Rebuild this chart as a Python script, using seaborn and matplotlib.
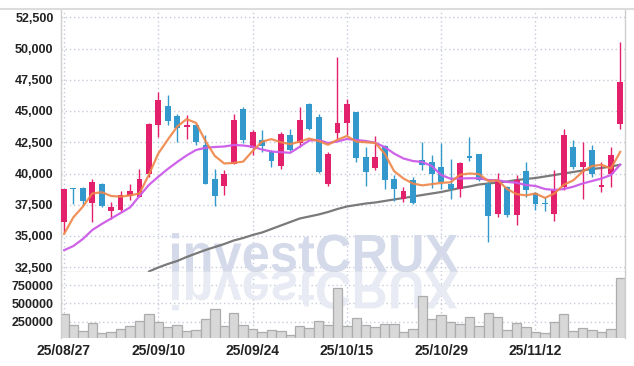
import numpy as np
import pandas as pd
import matplotlib
matplotlib.use("Agg")
import matplotlib.pyplot as plt
import seaborn as sns
from matplotlib.textpath import TextPath
from matplotlib.patches import PathPatch
from matplotlib.font_manager import FontProperties, fontManager
from matplotlib.transforms import Affine2D
from matplotlib.lines import Line2D

# ---------------- data ----------------
dates = ["2025-08-27", "2025-08-28", "2025-08-29", "2025-09-01", "2025-09-02",
         "2025-09-03", "2025-09-04", "2025-09-05", "2025-09-08", "2025-09-09",
         "2025-09-10", "2025-09-11", "2025-09-12", "2025-09-15", "2025-09-16",
         "2025-09-17", "2025-09-18", "2025-09-19", "2025-09-22", "2025-09-23",
         "2025-09-24", "2025-09-25", "2025-09-26", "2025-09-29", "2025-09-30",
         "2025-10-01", "2025-10-02", "2025-10-10", "2025-10-13", "2025-10-14",
         "2025-10-15", "2025-10-16", "2025-10-17", "2025-10-20", "2025-10-21",
         "2025-10-22", "2025-10-23", "2025-10-24", "2025-10-27", "2025-10-28",
         "2025-10-29", "2025-10-30", "2025-10-31", "2025-11-03", "2025-11-04",
         "2025-11-05", "2025-11-06", "2025-11-07", "2025-11-10", "2025-11-11",
         "2025-11-12", "2025-11-13", "2025-11-14", "2025-11-17", "2025-11-18",
         "2025-11-19", "2025-11-20", "2025-11-21", "2025-11-24", "2025-11-25"]

opens = [36100, 38800, 38850, 37650, 39200, 37000, 37100, 38200, 38150, 39950,
         43900, 45400, 44600, 43750, 43900, 42300, 39600, 39000, 40800, 45150,
         42000, 42700, 41750, 40600, 43100, 42400, 45550, 44550, 39150, 43250,
         44050, 44900, 41300, 40450, 42200, 39550, 37950, 39500, 41100, 40950,
         40550, 39150, 38800, 41400, 41550, 39150, 36800, 38900, 36700, 40200,
         38450, 37650, 36800, 38900, 42150, 40500, 41900, 38900, 39950, 43950]
highs = [38800, 38850, 38900, 39550, 39250, 37700, 38600, 39150, 40400, 44050,
         46550, 46250, 44800, 44700, 43950, 43100, 40350, 40300, 44750, 45300,
         43500, 43450, 41900, 43350, 43550, 45350, 45650, 44750, 41750, 49300,
         45950, 44950, 42100, 43000, 42250, 39850, 38950, 39700, 42550, 41500,
         42450, 41150, 40900, 42900, 41600, 39300, 40050, 39000, 39900, 40900,
         38500, 38100, 40250, 43550, 42650, 42550, 42300, 40950, 42100, 50550]
lows = [35350, 37550, 37480, 36150, 37350, 36350, 36900, 37900, 38100, 39750,
        42950, 43900, 42500, 42750, 42280, 39150, 37400, 38250, 40750, 42450,
        41500, 41750, 40500, 40350, 41800, 42150, 43450, 40050, 39000, 42700,
        43100, 40950, 39000, 40300, 38750, 37800, 37700, 37600, 40300, 38850,
        38750, 38000, 38150, 41000, 39400, 34550, 36550, 36500, 35900, 38150,
        37100, 37000, 36200, 38700, 40400, 38000, 39700, 38500, 38900, 43550]
closes = [38800, 38750, 37800, 39300, 37400, 37300, 38300, 38600, 39600, 43950,
          45900, 44200, 43650, 43900, 42550, 39200, 38200, 40000, 44300, 42700,
          43350, 42200, 41000, 43150, 41900, 44300, 43550, 40150, 41550, 44050,
          45550, 41200, 40150, 41300, 39500, 38750, 38600, 37650, 40700, 39950,
          39300, 38750, 40850, 41250, 39500, 36600, 39500, 36700, 39500, 38700,
          37550, 37550, 38650, 43100, 40500, 40900, 39950, 39100, 41500, 47350]
volumes = [355000, 205000, 127000, 228000, 100000, 114000, 150000, 191000, 260000, 355000,
           246000, 173000, 205000, 123000, 137000, 282000, 419000, 191000, 364000, 205000,
           146000, 105000, 137000, 123000, 64000, 191000, 164000, 260000, 205000, 706000,
           191000, 296000, 205000, 173000, 219000, 219000, 109000, 146000, 601000, 282000,
           342000, 246000, 219000, 319000, 187000, 364000, 310000, 132000, 228000, 173000,
           109000, 91000, 241000, 351000, 123000, 159000, 132000, 109000, 146000, 843000]
ma5 = [35150, 36500, 37350, 38400, 38500, 38200, 38150, 38250, 38400, 39900,
       41600, 42700, 43750, 44350, 44050, 42600, 41400, 40800, 40850, 40950,
       41800, 42550, 42750, 42500, 42350, 42550, 42800, 42600, 42300, 42700,
       43000, 42550, 42500, 42450, 41600, 40200, 39600, 39200, 39050, 39150,
       39250, 39300, 39900, 40000, 39950, 39400, 39450, 38750, 38350, 38250,
       38400, 38050, 38400, 39100, 39450, 40150, 40600, 40700, 40400, 41750]
ma20 = [33860, 34200, 34760, 35480, 35960, 36400, 36840, 37280, 38200, 39080,
        39740, 40360, 40920, 41440, 41880, 42060, 42120, 42160, 42280, 42240,
        42140, 41920, 41760, 41700, 41660, 42140, 42640, 42680, 42440, 42560,
        42760, 42680, 42600, 42460, 42120, 41600, 41200, 41000, 40920, 40600,
        39880, 39580, 39600, 39620, 39620, 39480, 39460, 39320, 39260, 39080,
        39000, 38760, 38680, 38760, 38940, 39200, 39400, 39600, 39880, 40720]
ma60 = [np.nan] * 9 + [
        32160, 32480, 32760, 33000, 33320, 33600, 33880, 34120, 34360, 34640,
        34840, 35080, 35280, 35560, 35840, 36120, 36400, 36560, 36720, 36920,
        37160, 37360, 37480, 37600, 37680, 37800, 37920, 38040, 38160, 38280,
        38400, 38520, 38680, 38840, 38960, 39120, 39200, 39280, 39360, 39480,
        39560, 39640, 39760, 39880, 40000, 40120, 40240, 40360, 40440, 40560,
        40700]
price_ticks = [32500, 35000, 37500, 40000, 42500, 45000, 47500, 50000, 52500]
volume_ticks = [250000, 500000, 750000]
label_step = 10
watermark = "investCRUX"

# ---------------- style ----------------
UP = "#e3206b"
DOWN = "#3399cc"
GRID = "#c6cadb"
SPINE = "#cfcfcf"
TXT = "#222222"

sns.set_style("white")
names = {f.name for f in fontManager.ttflist}
narrow = "Liberation Sans Narrow" in names
tick_family = ["Liberation Sans Narrow", "Liberation Sans", "DejaVu Sans"] if narrow else ["Liberation Sans", "DejaVu Sans"]
plt.rcParams["font.family"] = tick_family

W, H = 634, 366
fig = plt.figure(figsize=(W / 100, H / 100), dpi=100)

left_px, right_px = 60.5, 624.5
ptop, pbot = 9.3, 271.7
vbot = 337.5
axp = fig.add_axes([left_px / W, (H - pbot) / H, (right_px - left_px) / W, (pbot - ptop) / H])
axv = fig.add_axes([left_px / W, (H - vbot) / H, (right_px - left_px) / W, (vbot - pbot) / H])

df = pd.DataFrame({"date": dates, "open": opens, "high": highs, "low": lows,
                   "close": closes, "volume": volumes,
                   "ma5": ma5, "ma20": ma20, "ma60": ma60})
df["idx"] = np.arange(len(df))
df["up"] = df["close"] >= df["open"]
df["color"] = np.where(df["up"], UP, DOWN)

# wicks and bodies
axp.vlines(df["idx"], df["low"], df["high"], colors=df["color"], lw=1.0, zorder=3)
body_lo = df[["open", "close"]].min(axis=1)
body_h = (df["close"] - df["open"]).abs().clip(lower=70)
axp.bar(df["idx"], body_h, bottom=body_lo, width=0.62, color=df["color"],
        edgecolor="none", zorder=4)

# moving averages
sns.lineplot(data=df, x="idx", y="ma60", ax=axp, color="#737373", lw=1.6, alpha=0.95, zorder=2)
sns.lineplot(data=df, x="idx", y="ma20", ax=axp, color="#cc5be8", lw=1.6, alpha=0.95, zorder=5)
sns.lineplot(data=df, x="idx", y="ma5", ax=axp, color="#ef8548", lw=1.6, alpha=0.9, zorder=6)

# volume
sns.barplot(data=df, x="idx", y="volume", ax=axv, native_scale=True, width=1.0,
            color="#d8d8d8", edgecolor="#acacac", linewidth=0.9, saturation=1,
            errorbar=None, zorder=2)

xlim = (-0.37, 59.44)
for ax in (axp, axv):
    ax.set_xlim(*xlim)
    ax.set_xlabel("")
    ax.set_ylabel("")
    ax.set_facecolor("white")
    ax.grid(True, linestyle=(0, (1, 2)), color=GRID, lw=1.0, zorder=0)
    ax.set_axisbelow(True)
    for s in ax.spines.values():
        s.set_color(SPINE)
        s.set_linewidth(1.0)
    ax.tick_params(length=0, colors=TXT)

axp.set_ylim(32144, 53136)
axv.set_ylim(34000, 933000)

xt = df["idx"].iloc[::label_step].tolist()
xl = [d[2:].replace("-", "/") for d in df["date"].iloc[::label_step]]
axp.set_xticks(xt)
axp.set_xticklabels([])
axv.set_xticks(xt)
axv.set_xticklabels(xl, fontsize=11.5 if narrow else 10, fontweight="bold", color=TXT)
axv.tick_params(axis="x", pad=5)

axp.set_yticks(price_ticks)
axp.set_yticklabels([f"{v:,}" for v in price_ticks], fontsize=11 if narrow else 9,
                    fontweight="bold", color=TXT)
axv.set_yticks(volume_ticks)
axv.set_yticklabels([str(v) for v in volume_ticks], fontsize=11 if narrow else 9,
                    fontweight="bold", color=TXT)
axp.tick_params(axis="y", pad=5)
axv.tick_params(axis="y", pad=5)
axp.spines["top"].set_visible(False)
axv.spines["top"].set_visible(False)
axv.spines["bottom"].set_visible(False)

# watermark with reflection
fp = FontProperties(family="Liberation Sans", weight="bold")
tp = TextPath((0, 0), watermark, size=100, prop=fp)
bb = tp.get_extents()
x0w, x1w, ytop_w, ybase_w = 172, 458, 233, 271.7
sx = (x1w - x0w) / bb.width
sy = (ybase_w - ytop_w) / bb.y1
tr = Affine2D().translate(-bb.x0, 0).scale(sx, sy).translate(x0w, H - ybase_w)
wm = PathPatch(tp, transform=tr, facecolor="#d4daea", edgecolor="none", zorder=1)
axp.add_patch(wm)
tr2 = Affine2D().translate(-bb.x0, 0).scale(sx, -sy).translate(x0w, H - ybase_w)
wm2 = PathPatch(tp, transform=tr2, facecolor="#e8ebf3", edgecolor="none", zorder=1)
axv.add_patch(wm2)
axp.set_xlim(*xlim); axp.set_ylim(32144, 53136)
axv.set_xlim(*xlim); axv.set_ylim(34000, 933000)

# top border line across the figure
fig.add_artist(Line2D([0, 1], [(H - 9.3) / H] * 2, transform=fig.transFigure,
                      color="#dcdcdc", lw=1.5))

fig.savefig("out.png", dpi=100, facecolor="white")
